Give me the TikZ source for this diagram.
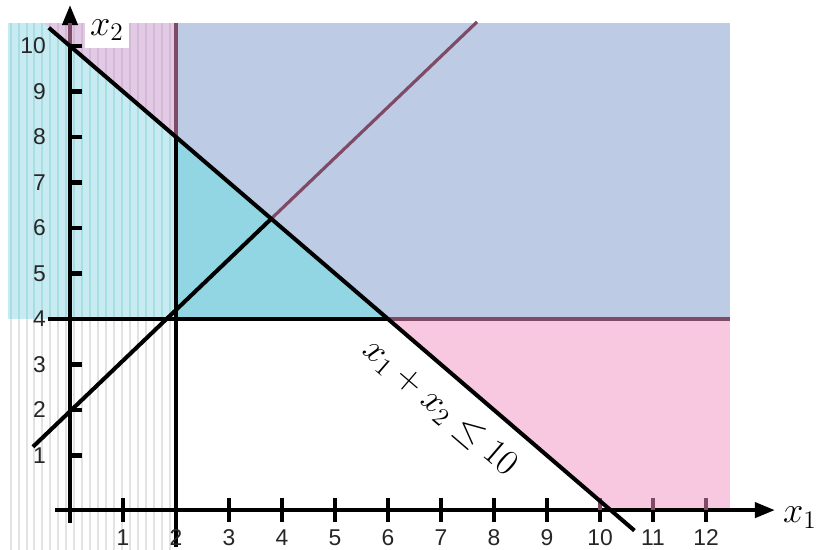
\documentclass[tikz,border=0pt]{standalone}
\usepackage{fontspec}
\newfontfamily\numfont{Liberation Sans}
\usetikzlibrary{arrows.meta}

\definecolor{bluereg}{RGB}{189,204,228}
\definecolor{cyanreg}{RGB}{146,214,227}
\definecolor{cyanlite}{RGB}{200,235,242}
\definecolor{cyanstripe}{RGB}{166,222,228}
\definecolor{lilacreg}{RGB}{226,202,228}
\definecolor{lilacstripe}{RGB}{212,184,216}
\definecolor{pinkreg}{RGB}{247,200,223}
\definecolor{greystripe}{RGB}{226,226,226}
\definecolor{mauve}{RGB}{127,74,102}

\begin{document}
\begin{tikzpicture}[x=1.06cm,y=0.91cm,
  bound/.style={line width=2.3pt},
  faded/.style={line width=1.8pt,draw=mauve},
  axisline/.style={line width=2.3pt,-{Triangle[length=0.4cm,width=0.3cm]}},
  stripe/.style={line width=0.04cm},
  num/.style={font=\numfont\fontsize{13}{15}\selectfont,text=black!85,inner sep=0pt},
  axlab/.style={font=\fontsize{20}{24}\selectfont,inner sep=0pt}]
\useasboundingbox (-1.3208,-1.0769) rectangle (14.283,11.011);

% corners of the regions
\coordinate (tl) at (-1.17,10.5);
\coordinate (tc) at (-0.5,10.5);
\coordinate (t2) at (2,10.5);
\coordinate (tr) at (12.45,10.5);
\coordinate (r4) at (12.45,4);
\coordinate (rb) at (12.45,-0.2);
\coordinate (sb) at (10.2,-0.2);
\coordinate (l4) at (-1.17,4);
\coordinate (c28) at (2,8);
\coordinate (c24) at (2,4);
\coordinate (c64) at (6,4);

% regions
\fill[bluereg] (c28) -- (c64) -- (r4) -- (tr) -- (t2) -- cycle;
\fill[cyanreg] (c24) -- (c28) -- (c64) -- cycle;
\fill[pinkreg] (c64) -- (r4) -- (rb) -- (sb) -- cycle;
\fill[cyanlite] (l4) -- (c24) -- (c28) -- (tc) -- (tl) -- cycle;
\fill[lilacreg] (tc) -- (c28) -- (t2) -- cycle;

% stripes left of x1=2
\begin{scope}
  \clip (-1.17,-1.08) rectangle (c24);
  \foreach \sx in {-1.12,-0.97,...,1.95}
    \draw[stripe,greystripe] (\sx,-1.08) -- (\sx,4);
\end{scope}
\begin{scope}
  \clip (l4) -- (c24) -- (c28) -- (tc) -- (tl) -- cycle;
  \foreach \sx in {-1.12,-0.97,...,1.95}
    \draw[stripe,cyanstripe] (\sx,4) -- (\sx,10.5);
\end{scope}
\begin{scope}
  \clip (tc) -- (c28) -- (t2) -- cycle;
  \foreach \sx in {-1.12,-0.97,...,1.95}
    \draw[stripe,lilacstripe] (\sx,4) -- (\sx,10.5);
\end{scope}

% constraint lines
\coordinate (sumA) at (-0.4,10.4);
\coordinate (sumB) at (10.65,-0.65);
\coordinate (slA) at (-0.7,1.19);
\coordinate (slB) at (7.68,10.53);
\coordinate (hA) at (-0.42,4);
\coordinate (vA) at (2,-1.0);
\coordinate (cross) at (intersection of sumA--sumB and slA--slB);

\draw[bound] (slA) -- (cross);
\draw[faded] (cross) -- (slB);
\draw[bound] (hA) -- (c64);
\draw[faded] (c64) -- (r4);
\draw[bound] (vA) -- (c28);
\draw[faded] (c28) -- (t2);

% axes
\coordinate (yA) at (0,-0.48);
\coordinate (yB) at (0,10.9);
\coordinate (xA) at (-0.28,-0.2);
\coordinate (xB) at (13.3,-0.2);
\draw[axisline] (yA) -- (yB);
\draw[axisline] (xA) -- (xB);
\draw[faded,line width=2.3pt] (0,10) -- (0,10.5);

\foreach \i in {1,...,10} {
  \draw[bound] (0,\i) -- (0.23,\i);
  \node[num,anchor=east] (ylab\i) at (-0.45,\i) {\i};
}
\foreach \i in {1,...,12} {
  \draw[bound] (\i,-0.46) -- (\i,0.06);
  \node[num] (xlab\i) at (\i,-0.8) {\i};
}
\foreach \i in {10,11,12}
  \draw[faded,line width=2.3pt] (\i,-0.2) -- (\i,0.06);

\draw[bound] (sumA) -- (sumB);

% labels
\node[axlab,anchor=base west] (xone) at (13.45,-0.48) {$x_1$};
\node[axlab,anchor=base west,fill=white,inner xsep=0.1cm,inner ysep=0.15cm]
  (xtwo) at (0.28,10.24) {$x_2$};
\node[font=\fontsize{21}{25}\selectfont,rotate=-40.7] (sumlab) at (6.98,2.04)
  {$x_1 + x_2 \leq 10$};
\end{tikzpicture}
\end{document}
